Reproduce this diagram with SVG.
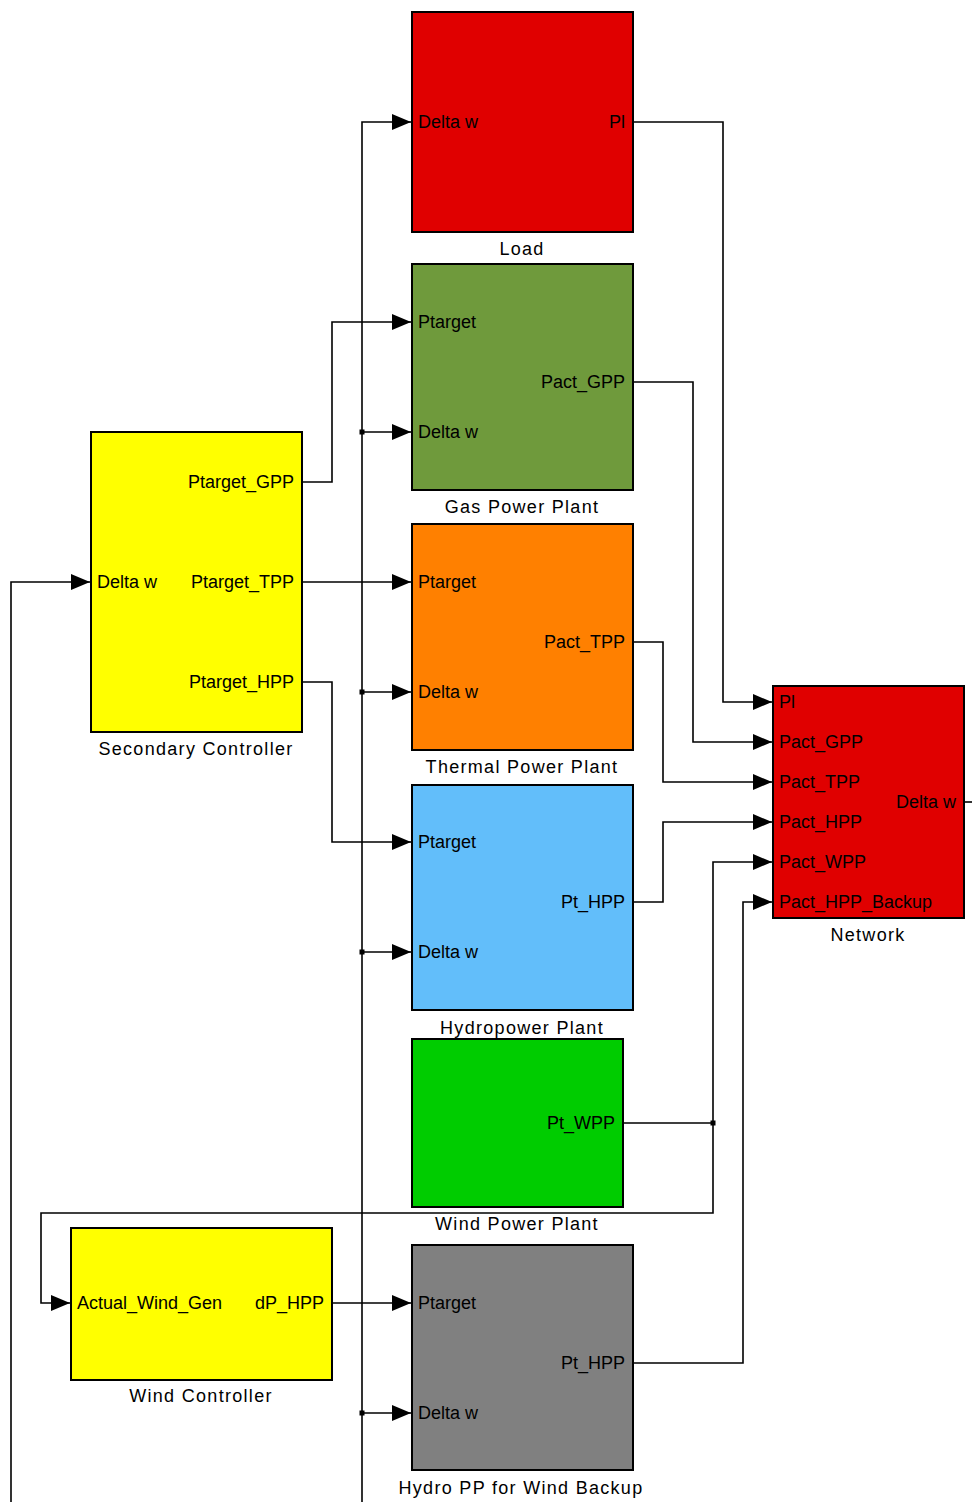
<svg xmlns="http://www.w3.org/2000/svg" width="972" height="1502" viewBox="0 0 972 1502">
<defs>
<style>
.blk{stroke:#000;stroke-width:2}
.pt{font-family:"Liberation Sans",Arial,sans-serif;font-size:18px;fill:#000}
.lbl{font-family:"Liberation Sans",Arial,sans-serif;font-size:18px;fill:#000;letter-spacing:1.3px;text-anchor:middle}
.end{text-anchor:end}
.w{fill:none;stroke:#000;stroke-width:1.6}
</style>
<marker id="ar" viewBox="0 0 19 16" refX="19" refY="8" markerWidth="19" markerHeight="16" markerUnits="userSpaceOnUse" orient="auto">
<path d="M0,0 L19,8 L0,16 Z" fill="#000"/>
</marker>
</defs>
<rect width="972" height="1502" fill="#fff"/>

<g id="connectors">
<path class="w" d="M362,1502 V122 H411" marker-end="url(#ar)"/>
<path class="w" d="M362,432 H411" marker-end="url(#ar)"/>
<path class="w" d="M362,692 H411" marker-end="url(#ar)"/>
<path class="w" d="M362,952 H411" marker-end="url(#ar)"/>
<path class="w" d="M362,1413 H411" marker-end="url(#ar)"/>
<path class="w" d="M11,1502 V582 H90" marker-end="url(#ar)"/>
<path class="w" d="M964,802 H972"/>
<path class="w" d="M633,122 H723 V702 H772" marker-end="url(#ar)"/>
<path class="w" d="M633,382 H693 V742 H772" marker-end="url(#ar)"/>
<path class="w" d="M633,642 H663 V782 H772" marker-end="url(#ar)"/>
<path class="w" d="M633,902 H663 V822 H772" marker-end="url(#ar)"/>
<path class="w" d="M623,1123 H713 V862 H772" marker-end="url(#ar)"/>
<path class="w" d="M713,1123 V1213 H41 V1303 H70" marker-end="url(#ar)"/>
<path class="w" d="M633,1363 H743 V902 H772" marker-end="url(#ar)"/>
<path class="w" d="M302,482 H332 V322 H411" marker-end="url(#ar)"/>
<path class="w" d="M302,582 H411" marker-end="url(#ar)"/>
<path class="w" d="M302,682 H332 V842 H411" marker-end="url(#ar)"/>
<path class="w" d="M332,1303 H411" marker-end="url(#ar)"/>
<g fill="#000">
<rect x="359.5" y="429.5" width="5" height="5"/>
<rect x="359.5" y="689.5" width="5" height="5"/>
<rect x="359.5" y="949.5" width="5" height="5"/>
<rect x="359.5" y="1410.5" width="5" height="5"/>
<rect x="710.5" y="1120.5" width="5" height="5"/>
</g>
</g>

<g id="load">
<rect class="blk" x="412" y="12" width="221" height="220" fill="#E00000"/>
<text class="pt" x="418" y="128">Delta w</text>
<text class="pt end" x="625" y="128">Pl</text>
<text class="lbl" x="522" y="255">Load</text>
</g>

<g id="gas">
<rect class="blk" x="412" y="264" width="221" height="226" fill="#6F9A3C"/>
<text class="pt" x="418" y="328">Ptarget</text>
<text class="pt" x="418" y="438">Delta w</text>
<text class="pt end" x="625" y="388">Pact_GPP</text>
<text class="lbl" x="522" y="513">Gas Power Plant</text>
</g>

<g id="thermal">
<rect class="blk" x="412" y="524" width="221" height="226" fill="#FF8000"/>
<text class="pt" x="418" y="588">Ptarget</text>
<text class="pt" x="418" y="698">Delta w</text>
<text class="pt end" x="625" y="648">Pact_TPP</text>
<text class="lbl" x="522" y="773">Thermal Power Plant</text>
</g>

<g id="hydro">
<rect class="blk" x="412" y="785" width="221" height="225" fill="#62BEFA"/>
<text class="pt" x="418" y="848">Ptarget</text>
<text class="pt" x="418" y="958">Delta w</text>
<text class="pt end" x="625" y="908">Pt_HPP</text>
<text class="lbl" x="522" y="1034">Hydropower Plant</text>
</g>

<g id="wind">
<rect class="blk" x="412" y="1039" width="211" height="168" fill="#00CC00"/>
<text class="pt end" x="615" y="1129">Pt_WPP</text>
<text class="lbl" x="517" y="1230">Wind Power Plant</text>
</g>

<g id="backup">
<rect class="blk" x="412" y="1245" width="221" height="225" fill="#808080"/>
<text class="pt" x="418" y="1309">Ptarget</text>
<text class="pt" x="418" y="1419">Delta w</text>
<text class="pt end" x="625" y="1369">Pt_HPP</text>
<text class="lbl" x="521" y="1494">Hydro PP for Wind Backup</text>
</g>

<g id="secondary">
<rect class="blk" x="91" y="432" width="211" height="300" fill="#FFFF00"/>
<text class="pt" x="97" y="588">Delta w</text>
<text class="pt end" x="294" y="488">Ptarget_GPP</text>
<text class="pt end" x="294" y="588">Ptarget_TPP</text>
<text class="pt end" x="294" y="688">Ptarget_HPP</text>
<text class="lbl" x="196" y="755">Secondary Controller</text>
</g>

<g id="windctrl">
<rect class="blk" x="71" y="1228" width="261" height="152" fill="#FFFF00"/>
<text class="pt" x="77" y="1309">Actual_Wind_Gen</text>
<text class="pt end" x="324" y="1309">dP_HPP</text>
<text class="lbl" x="201" y="1402">Wind Controller</text>
</g>

<g id="network">
<rect class="blk" x="773" y="686" width="191" height="232" fill="#E00000"/>
<text class="pt" x="779" y="708">Pl</text>
<text class="pt" x="779" y="748">Pact_GPP</text>
<text class="pt" x="779" y="788">Pact_TPP</text>
<text class="pt" x="779" y="828">Pact_HPP</text>
<text class="pt" x="779" y="868">Pact_WPP</text>
<text class="pt" x="779" y="908">Pact_HPP_Backup</text>
<text class="pt end" x="956" y="808">Delta w</text>
<text class="lbl" x="868" y="941">Network</text>
</g>
</svg>
